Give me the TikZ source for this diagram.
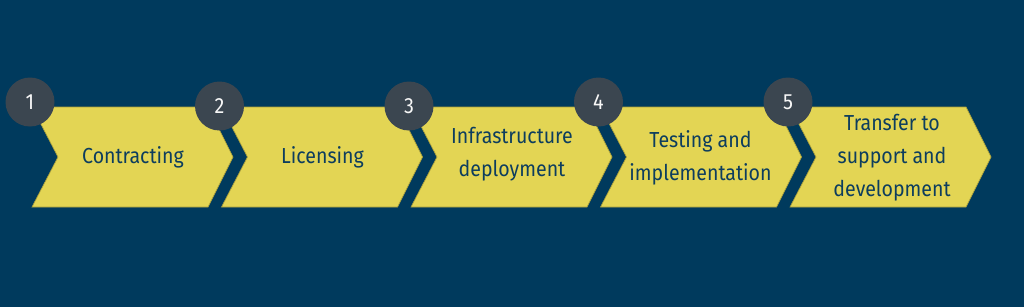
\documentclass[tikz,border=0pt]{standalone}
\usepackage{fontspec}
\setmainfont[FakeStretch=0.9]{Fira Sans}
\usepackage{tikz}
\usetikzlibrary{calc}
\tikzset{every node/.append style={align=center}}
\definecolor{bgnavy}{HTML}{003A5D}
\definecolor{chevyellow}{HTML}{E3D554}
\definecolor{chevedge}{HTML}{A89E3C}
\definecolor{chevtext}{HTML}{0D3D5E}
\definecolor{stepgray}{HTML}{3B4650}
\tikzset{
  chevron/.style={fill=chevyellow, draw=chevedge, line width=0.5pt},
  chevlabel/.style={text=chevtext, font=\fontsize{16.3}{24.75}\selectfont},
  stepnum/.style={circle, fill=stepgray, minimum size=36.75pt, inner sep=0pt,
    text=white!94!gray, font=\fontsize{16.5}{18}\selectfont}
}

\begin{document}
\begin{tikzpicture}[x=0.75pt, y=-0.75pt]

  % Background
  \fill[bgnavy] (0,0) rectangle (1024,307);
  \useasboundingbox (0,0) rectangle (1024,307);

  % === Step 1 ===
  \begin{scope}[shift={(32,0)}]
    \fill[chevron]
      (0,107) -- (176,107) -- (201,157) -- (176,207) -- (0,207) -- (26,157) -- cycle;
    \node[chevlabel] (contract) at (101,157)
      {Contracting};
    \node[stepnum] (num1) at (-2,102) {1};
  \end{scope}

  % === Step 2 ===
  \begin{scope}[shift={(221.5,0)}]
    \fill[chevron]
      (0,107) -- (176,107) -- (201,157) -- (176,207) -- (0,207) -- (26,157) -- cycle;
    \node[chevlabel] (license) at (101,157)
      {Licensing};
    \node[stepnum] (num2) at (-2,106) {2};
  \end{scope}

  % === Step 3 ===
  \begin{scope}[shift={(411,0)}]
    \fill[chevron]
      (0,107) -- (176,107) -- (201,157) -- (176,207) -- (0,207) -- (26,157) -- cycle;
    \node[chevlabel] (infra) at (101,154)
      {Infrastructure\\deployment};
    \node[stepnum] (num3) at (-2,106) {3};
  \end{scope}

  % === Step 4 ===
  \begin{scope}[shift={(600.5,0)}]
    \fill[chevron]
      (0,107) -- (176,107) -- (201,157) -- (176,207) -- (0,207) -- (26,157) -- cycle;
    \node[chevlabel] (testing) at (100,158)
      {Testing and\\implementation};
    \node[stepnum] (num4) at (-2,102) {4};
  \end{scope}

  % === Step 5 ===
  \begin{scope}[shift={(790,0)}]
    \fill[chevron]
      (0,107) -- (176,107) -- (201,157) -- (176,207) -- (0,207) -- (26,157) -- cycle;
    \node[chevlabel] (transfer) at (102,158)
      {Transfer to\\support and\\development};
    \node[stepnum] (num5) at (-2,102) {5};
  \end{scope}

\end{tikzpicture}
\end{document}
